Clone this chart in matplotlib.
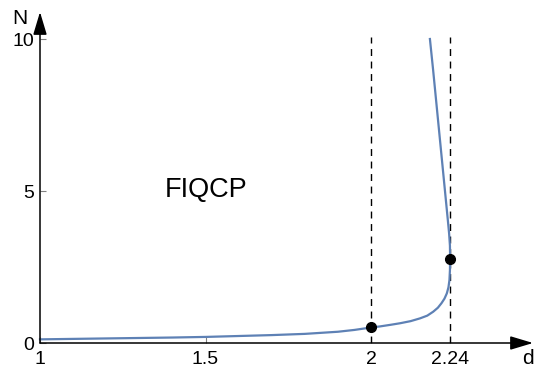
import matplotlib
matplotlib.use("Agg")
import matplotlib.pyplot as plt

plt.rcParams['font.family'] = ['Liberation Sans', 'DejaVu Sans']

# curve (d, N)
d_vals = [1.0, 1.1, 1.2, 1.3, 1.4, 1.5, 1.6, 1.7, 1.8, 1.9, 1.95, 2.0,
          2.027, 2.06, 2.088, 2.12, 2.148, 2.17, 2.188, 2.202, 2.213, 2.222,
          2.229, 2.234, 2.237, 2.2385, 2.239, 2.2385, 2.236, 2.2325, 2.228,
          2.2235, 2.2145, 2.2055, 2.1965, 2.1875, 2.178]
n_vals = [0.12, 0.135, 0.15, 0.165, 0.18, 0.2, 0.23, 0.26, 0.3, 0.37, 0.43, 0.51,
          0.545, 0.6, 0.65, 0.72, 0.81, 0.9, 1.03, 1.16, 1.31, 1.46,
          1.63, 1.83, 2.07, 2.4, 2.75, 3.2, 3.6, 4.0, 4.5,
          5.0, 6.0, 7.0, 8.0, 9.0, 10.0]

# marked points
pts_d = [2.0, 2.24]
pts_n = [0.52, 2.76]

# vertical dashed lines
vlines = [2.0, 2.24]

xticks = [1, 1.5, 2, 2.24]
xtick_labels = ["1", "1.5", "2", "2.24"]
yticks = [0, 5, 10]
ytick_labels = ["0", "5", "10"]

W, H = 534, 369
fig = plt.figure(figsize=(W / 100, H / 100), dpi=100)
ax = fig.add_axes([40 / W, 26 / H, 493 / W, 331 / H])
ax.set_xlim(1, 1 + 493 / 331)
ax.set_ylim(0, 331 / 30.4)

for s in ax.spines.values():
    s.set_visible(False)

ax.plot(d_vals, n_vals, color="#5E81B5", lw=1.6, clip_on=False, zorder=3,
        solid_joinstyle="round")
for x in vlines:
    ax.plot([x, x], [0, 10.05], color="black", lw=1.0, ls=(0, (5, 4)), zorder=2)
ax.plot(pts_d, pts_n, "o", color="black", ms=7, zorder=4)

ax.text(1.503, 5.03, "FIQCP", fontsize=19.5, ha="center", va="center")

# arrowed axes
arrow = dict(arrowstyle="-|>,head_length=1.4,head_width=0.42",
             color="black", lw=1.1, shrinkA=0, shrinkB=0)
ax.annotate("", xy=(1.0, 0), xytext=(0, 0), xycoords="axes fraction",
            arrowprops=arrow)
ax.annotate("", xy=(0, 1.0), xytext=(0, 0), xycoords="axes fraction",
            arrowprops=arrow)

ax.set_xticks(xticks)
ax.set_xticklabels(xtick_labels)
ax.set_yticks(yticks)
ax.set_yticklabels(ytick_labels)
ax.tick_params(axis="both", direction="in", length=4, width=0.8, color="gray",
               labelsize=14)
ax.tick_params(axis="x", pad=6)
ax.tick_params(axis="y", pad=4.5)

fig.text(20 / W, 1 - 19 / H, "N", fontsize=15, ha="center", va="center")
fig.text(528 / W, 1 - 358 / H, "d", fontsize=15, ha="center", va="center")

fig.savefig("out.png", dpi=100)
